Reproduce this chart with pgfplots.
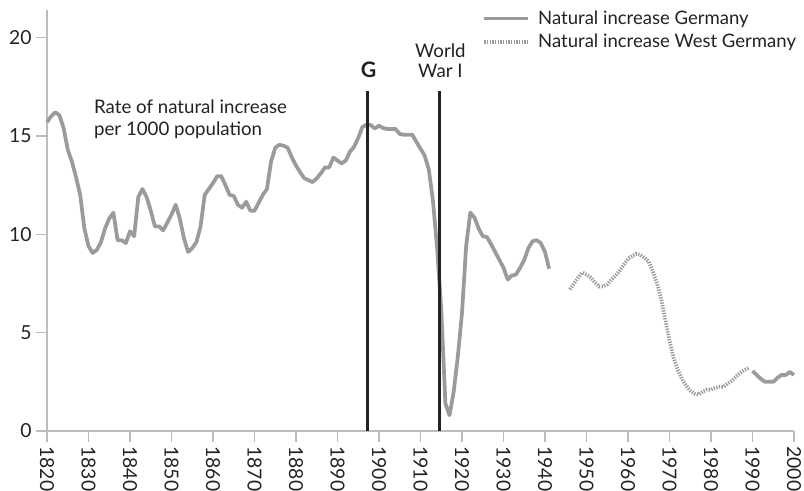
\documentclass[border=0pt]{standalone}
\usepackage{fontspec}
\setmainfont{Lato}
\usepackage{pgfplots}
\pgfplotsset{compat=1.18}
\definecolor{curve}{HTML}{9B9B9B}
\definecolor{axisgray}{HTML}{BDBDBD}
\definecolor{txt}{HTML}{222222}
\begin{document}
\begin{tikzpicture}
\useasboundingbox (-35.25pt,-44.25pt) rectangle (567.75pt,323.25pt);
\begin{axis}[
  scale only axis, width=560.25pt, height=315.75pt,
  xmin=1820, xmax=2000, ymin=0, ymax=21.4,
  axis lines*=left,
  axis line style={draw=axisgray, line width=1.1pt},
  xtick={1820,1830,...,2000}, ytick={0,5,10,15,20},
  tick align=outside, major tick length=8pt,
  tick style={draw=axisgray, line width=1.1pt},
  /pgf/number format/assume math mode=true,
  /pgf/number format/1000 sep={},
  x tick label style={rotate=-90, anchor=west, font=\fontsize{14.5}{14.5}\selectfont, text=txt},
  y tick label style={font=\fontsize{14.5}{14.5}\selectfont, text=txt},
  clip=false,
  legend style={at={(1.012,1.012)}, anchor=north east, draw=none, fill=none,
    font=\fontsize{13.9}{15}\selectfont, text=txt, row sep=2pt,
    /tikz/every odd column/.append style={column sep=4pt}},
  legend cell align=left,
  legend image code/.code={\draw[#1] (0pt,0pt) -- (33pt,0pt);},
]
\addplot[curve, line width=2.8pt, line join=round] coordinates {
(1820,15.7)(1821,16.0)(1822,16.2)(1823,16.05)(1824,15.4)(1825,14.3)(1826,13.7)(1827,12.9)(1828,12.0)(1829,10.3)
(1830,9.4)(1831,9.05)(1832,9.2)(1833,9.6)(1834,10.3)(1835,10.8)(1836,11.1)(1837,9.7)(1838,9.7)(1839,9.55)
(1840,10.15)(1841,9.9)(1842,11.9)(1843,12.3)(1844,11.9)(1845,11.2)(1846,10.4)(1847,10.4)(1848,10.2)(1849,10.6)
(1850,11.0)(1851,11.5)(1852,10.8)(1853,9.8)(1854,9.1)(1855,9.3)(1856,9.6)(1857,10.4)(1858,12.0)(1859,12.3)
(1860,12.6)(1861,12.95)(1862,12.95)(1863,12.5)(1864,12.0)(1865,11.95)(1866,11.5)(1867,11.35)(1868,11.65)(1869,11.2)
(1870,11.2)(1871,11.6)(1872,12.0)(1873,12.3)(1874,13.7)(1875,14.4)(1876,14.55)(1877,14.5)(1878,14.4)(1879,13.9)
(1880,13.5)(1881,13.15)(1882,12.85)(1883,12.75)(1884,12.65)(1885,12.85)(1886,13.1)(1887,13.4)(1888,13.4)(1889,13.9)
(1890,13.75)(1891,13.6)(1892,13.75)(1893,14.2)(1894,14.45)(1895,14.9)(1896,15.45)(1897,15.57)(1898,15.55)(1899,15.38)
(1900,15.52)(1901,15.4)(1902,15.35)(1903,15.35)(1904,15.35)(1905,15.1)(1906,15.06)(1907,15.06)(1908,15.06)(1909,14.7)
(1910,14.35)(1911,14.0)(1912,13.3)(1913,11.7)(1914,9.3)(1915,6.2)(1916,1.4)(1917,0.8)(1918,2.0)(1919,3.8)
(1920,6.0)(1921,9.4)(1922,11.1)(1923,10.85)(1924,10.3)(1925,9.9)(1926,9.86)(1927,9.5)(1928,9.1)(1929,8.7)
(1930,8.3)(1931,7.7)(1932,7.9)(1933,7.95)(1934,8.3)(1935,8.7)(1936,9.3)(1937,9.65)(1938,9.7)(1939,9.55)
(1940,9.1)(1941,8.25)
};
\addlegendentry{Natural increase Germany}
\addplot[curve, line width=2.8pt, dash pattern=on 1pt off 1pt] coordinates {
(1946,7.2)(1947,7.5)(1948,7.8)(1949,8.05)(1950,7.95)(1951,7.8)(1952,7.55)(1953,7.35)(1954,7.35)(1955,7.45)
(1956,7.7)(1957,7.9)(1958,8.15)(1959,8.45)(1960,8.75)(1961,8.9)(1962,9.0)(1963,8.95)(1964,8.8)(1965,8.6)
(1966,8.1)(1967,7.5)(1968,6.7)(1969,5.65)(1970,4.6)(1971,3.7)(1972,3.1)(1973,2.65)(1974,2.3)(1975,2.05)
(1976,1.9)(1977,1.85)(1978,2.0)(1979,2.1)(1980,2.1)(1981,2.2)(1982,2.25)(1983,2.25)(1984,2.4)(1985,2.55)
(1986,2.75)(1987,2.95)(1988,3.1)(1989,3.2)
};
\addlegendentry{Natural increase West Germany}
\addplot[curve, line width=2.8pt, line join=round, forget plot] coordinates {
(1990,3.05)(1991,2.85)(1992,2.65)(1993,2.5)(1994,2.5)(1995,2.5)(1996,2.7)(1997,2.85)(1998,2.85)(1999,3.0)(2000,2.85)
};
\addplot[txt, line width=2pt, forget plot] coordinates {(1897.3,0)(1897.3,17.3)};
\addplot[txt, line width=2pt, forget plot] coordinates {(1914.6,0)(1914.6,17.3)};
\node[anchor=west, font=\fontsize{14}{15}\selectfont, text=txt, inner sep=0pt] at (axis cs:1831.3,16.5) {Rate of natural increase};
\node[anchor=west, font=\fontsize{14}{15}\selectfont, text=txt, inner sep=0pt] at (axis cs:1831.3,15.27) {per 1000 population};
\node[font=\fontsize{16}{16}\selectfont\bfseries, text=txt, inner sep=0pt] at (axis cs:1897.5,18.37) {G};
\node[font=\fontsize{14}{15}\selectfont, text=txt, inner sep=0pt] at (axis cs:1914.8,19.34) {World};
\node[font=\fontsize{14}{15}\selectfont, text=txt, inner sep=0pt] at (axis cs:1914.8,18.3) {War I};
\end{axis}
\end{tikzpicture}
\end{document}
